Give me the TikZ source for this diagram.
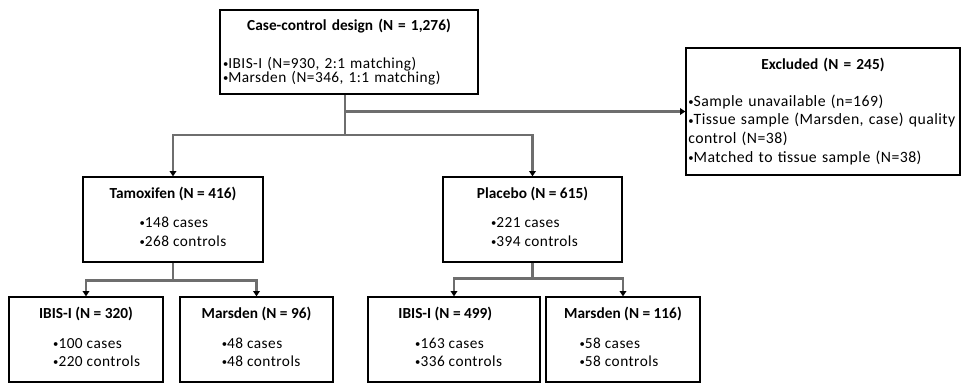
\documentclass[tikz,border=0pt]{standalone}
\usepackage{fontspec}
\setmainfont{Carlito}[LetterSpace=3, BoldFeatures={LetterSpace=0}]
\usetikzlibrary{arrows.meta}

\newcommand{\bul}{{\footnotesize\raisebox{0.15ex}{•}}}
% bullet block, optional shift to the right
\newcommand{\blist}[2][0pt]{\hspace*{#1}\begin{tabular}{@{}l@{}}#2\end{tabular}}

\begin{document}
\begin{tikzpicture}[x=0.75pt,y=-0.75pt,
  box/.style={draw, line width=1pt, align=center, inner sep=2pt,
    font=\fontsize{11.5}{14}\selectfont},
  dims/.style 2 args={minimum width=#1*0.75pt, minimum height=#2*0.75pt},
  link/.style={draw={rgb,255:red,110;green,110;blue,110}, line width=1.8pt},
  arr/.style={-{Triangle[black,length=4pt,width=5pt]}}]
\useasboundingbox (0,0) rectangle (963,386);

% top of the flow
\node[box,dims={258}{84},text width=189pt,align=left] (design) at (349,52)
  {\makebox[\linewidth]{\textbf{Case-control design (N = 1,276)}}\\[15pt]
   \bul IBIS-I (N=930, 2:1 matching)\\[-3.5pt]
   \bul Marsden (N=346, 1:1 matching)};
\node[box,dims={274}{127},inner xsep=1pt,text width=202pt,align=left,
  font=\fontsize{11.8}{14}\selectfont] (excl) at (823,111.5)
  {\makebox[\linewidth]{\fontsize{11.5}{14}\selectfont\textbf{Excluded (N = 245)}}\\[13.5pt]
   \bul Sample unavailable (n=169)\\
   \mbox{\bul Tissue sample (Marsden, case) quality}\\
   control (N=38)\\
   \bul Matched to tissue sample (N=38)};

% treatment arms
\node[box,dims={180}{85}] (tam) at (173,219.5)
  {\textbf{Tamoxifen (N = 416)}\\[9pt]\blist[15pt]{\bul 148 cases\\ \bul 268 controls}};
\node[box,dims={179}{85}] (pla) at (532.5,219.5)
  {\textbf{Placebo (N = 615)}\\[9pt]\blist[3pt]{\bul 221 cases\\ \bul 394 controls}};

% trials
\node[box,dims={154}{85}] (tibis) at (86,339.5)
  {\textbf{IBIS-I (N = 320)}\\[10pt]\blist[16pt]{\bul 100 cases\\ \bul 220 controls}};
\node[box,dims={153}{85}] (tmars) at (256.5,339.5)
  {\textbf{Marsden (N = 96)}\\[10pt]\blist[7pt]{\bul 48 cases\\ \bul 48 controls}};
\node[box,dims={172}{85}] (pibis) at (454,339.5)
  {\hspace*{-13pt}\textbf{IBIS-I (N = 499)}\\[10pt]\blist[7pt]{\bul 163 cases\\ \bul 336 controls}};
\node[box,dims={154}{85}] (pmars) at (623,339.5)
  {\textbf{Marsden (N = 116)}\\[10pt]\blist[-6pt]{\bul 58 cases\\ \bul 58 controls}};

% connectors
\coordinate (fork) at (345,135);
\draw[link] (fork |- design.south) -- (fork);
\draw[link,arr] (fork |- excl.west) -- (excl.west);
\draw[link,arr] (fork) -| (tam);
\draw[link,arr] (fork) -| (pla);
\draw[link] (tam.south) -- ++(0,18) coordinate (tamfork);
\draw[link,arr] (tamfork) -| (tibis);
\draw[link,arr] (tamfork) -| (tmars);
\draw[link] (pla.south) -- ++(0,16) coordinate (plafork);
\draw[link,arr] (plafork) -| (pibis);
\draw[link,arr] (plafork) -| (pmars);
\end{tikzpicture}
\end{document}
